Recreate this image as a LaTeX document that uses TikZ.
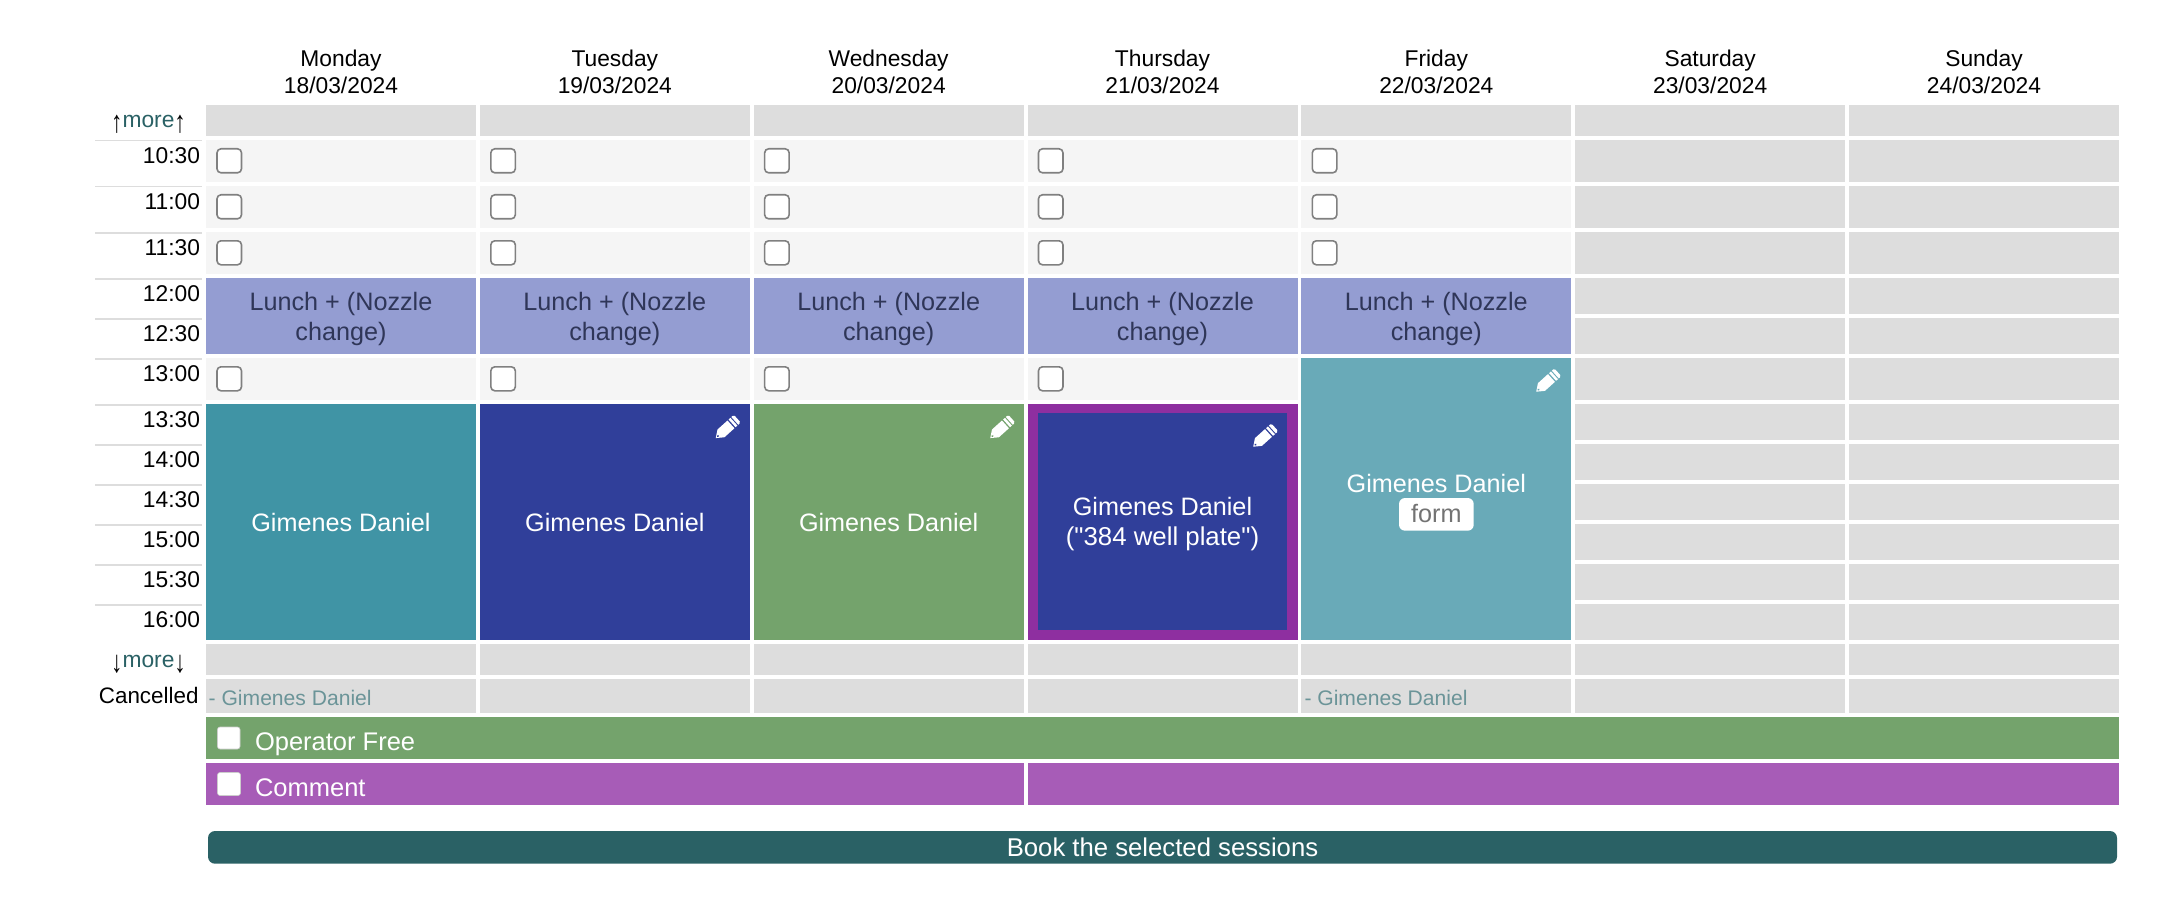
\documentclass[tikz,border=0pt]{standalone}
\usepackage{fontspec}
\setmainfont[Ligatures=TeXOff]{Liberation Sans}
\definecolor{cgray}{HTML}{DDDDDD}
\definecolor{clight}{HTML}{F5F5F5}
\definecolor{clunch}{HTML}{949DD2}
\definecolor{clunchtxt}{HTML}{2F3658}
\definecolor{cteal}{HTML}{4094A5}
\definecolor{cblue}{HTML}{303F9A}
\definecolor{cgreen}{HTML}{74A36C}
\definecolor{cpurple}{HTML}{8E2FA0}
\definecolor{cpale}{HTML}{69AAB8}
\definecolor{cbar}{HTML}{A75CB7}
\definecolor{cbtn}{HTML}{2A6165}
\definecolor{ccancel}{HTML}{6B9498}
\definecolor{cbox}{HTML}{808080}
\newcommand{\uparr}{\raisebox{-5.4pt}{\scalebox{1}[1.35]{↑}}}
\newcommand{\downarr}{\raisebox{-5.4pt}{\scalebox{1}[1.35]{↓}}}
\tikzset{
  x=1pt,y=-1pt,
  txt/.style={inner sep=0pt,outer sep=0pt,font=\fontsize{22.8}{26}\selectfont,text=black},
  big/.style={inner sep=0pt,outer sep=0pt,font=\fontsize{25.2}{30}\selectfont,text=white,anchor=base},
  barfont/.style={big,font=\fontsize{25.5}{30}\selectfont},
  lunchtxt/.style={big,text=clunchtxt},
  canceltxt/.style={inner sep=0pt,outer sep=0pt,font=\fontsize{21.1}{25}\selectfont,text=ccancel,anchor=base west},
  checkbox/.style={draw=cbox,line width=1.6pt,fill=white,rounded corners=4pt},
  barbox/.style={draw=cbox!40,line width=0.6pt,fill=white,rounded corners=2.5pt},
  rulew/.style={draw=cgray,line width=1.6pt},
  pics/pencil/.style={code={
    % origin: top right corner of a 24x24 icon box, drawn along the diagonal
    \begin{scope}[shift={(-12,12)},rotate=42]
      \fill[white] (-14.5,0) -- (-7.5,-5.2) -- (6,-5.2) -- (6,5.2) -- (-7.5,5.2) -- cycle;
      \fill[#1] (-11.5,0) circle (1.1);
      \fill[white] (7.5,-5.2) rectangle (10,5.2);
      \fill[white] (11.2,-5.2) -- (13,-5.2) -- (14.5,-3.7) -- (14.5,3.7) -- (13,5.2) -- (11.2,5.2) -- cycle;
    \end{scope}
  }},
}
\begin{document}
\begin{tikzpicture}
\useasboundingbox (0,0) rectangle (2168,920);
\fill[white] (0,0) rectangle (2168,920);
% day headers
\foreach \i/\d/\dt in {0/Monday/18,1/Tuesday/19,2/Wednesday/20,3/Thursday/21,4/Friday/22,5/Saturday/23,6/Sunday/24}{
  \pgfmathsetmacro\cx{206+\i*273.83+135}
  \node[txt,anchor=base] (day\i) at (\cx,66.4) {\d};
  \node[txt,anchor=base] (date\i) at (\cx,93.6) {\dt/03/2024};
}
% all-day rows
\foreach \i in {0,...,6}{
  \pgfmathsetmacro\xa{206+\i*273.83}
  \pgfmathsetmacro\xb{\xa+270}
  \fill[cgray] (\xa,105) rectangle (\xb,136);
  \fill[cgray] (\xa,644) rectangle (\xb,674.7);
  \fill[cgray] (\xa,679) rectangle (\xb,712.7);
}
% morning rows and 13:00
\foreach \ya/\yb in {140/181.7,186/227.7,232/274,358/400}{
  \foreach \i in {0,...,4}{
    \pgfmathsetmacro\xa{206+\i*273.83}
    \pgfmathsetmacro\xb{\xa+270}
    \fill[clight] (\xa,\ya) rectangle (\xb,\yb);
  }
  \foreach \i in {5,6}{
    \pgfmathsetmacro\xa{206+\i*273.83}
    \pgfmathsetmacro\xb{\xa+270}
    \fill[cgray] (\xa,\ya) rectangle (\xb,\yb);
  }
}
% weekend remaining rows
\foreach \ya/\yb in {278/314,318/353.7,404/440,444/480,484/520,524/560,564/600,604/640}{
  \foreach \i in {5,6}{
    \pgfmathsetmacro\xa{206+\i*273.83}
    \pgfmathsetmacro\xb{\xa+270}
    \fill[cgray] (\xa,\ya) rectangle (\xb,\yb);
  }
}
% lunch
\foreach \i in {0,...,4}{
  \pgfmathsetmacro\xa{206+\i*273.83}
  \pgfmathsetmacro\xb{\xa+270}
  \pgfmathsetmacro\cx{\xa+135}
  \fill[clunch] (\xa,278) rectangle (\xb,353.7);
  \node[lunchtxt] (luncha\i) at (\cx,310) {Lunch + (Nozzle};
  \node[lunchtxt] (lunchb\i) at (\cx,340) {change)};
}
% check boxes
\foreach \y in {148,194,240}{
  \foreach \i in {0,...,4}{
    \pgfmathsetmacro\xa{206+\i*273.83+11}
    \pgfmathsetmacro\xb{\xa+24.5}
    \pgfmathsetmacro\yb{\y+24.8}
    \draw[checkbox] (\xa,\y+0.8) rectangle (\xb,\yb);
  }
}
\foreach \i in {0,...,3}{
  \pgfmathsetmacro\xa{206+\i*273.83+11}
  \pgfmathsetmacro\xb{\xa+24.5}
  \draw[checkbox] (\xa,366.8) rectangle (\xb,390.8);
}
% booked blocks
\fill[cteal] (206,404) rectangle (476,640);
\fill[cblue] (479.83,404) rectangle (749.83,640);
\fill[cgreen] (753.66,404) rectangle (1023.66,640);
\fill[cpurple] (1027.5,404) rectangle (1297.5,640);
\fill[cblue] (1037.5,413) rectangle (1287,630);
\fill[cpale] (1301.3,358) rectangle (1571.3,640);
\node[big] (mon) at (341,531) {Gimenes Daniel};
\node[big] (tue) at (614.83,531) {Gimenes Daniel};
\node[big] (wed) at (888.66,531) {Gimenes Daniel};
\node[big] (thua) at (1162.5,515) {Gimenes Daniel};
\node[big,font=\fontsize{25.8}{30}\selectfont] (thub) at (1162.5,545) {("384 well plate")};
\node[big] (fri) at (1436.3,492) {Gimenes Daniel};
\fill[white,rounded corners=6pt] (1399,498) rectangle (1473.7,530.7);
\node[big,text=black!55] (form) at (1436.3,522.7) {form};
\pic at (738.5,416.4) {pencil=cblue};
\pic at (1013,416.4) {pencil=cgreen};
\pic at (1276,425) {pencil=cblue};
\pic at (1559,370) {pencil=cpale};
% time rules and labels
\foreach \y/\t in {140.7/10:30,186.7/11:00,232.7/11:30,278.7/12:00,318.7/12:30,358.7/13:00,404.7/13:30,444.7/14:00,484.7/14:30,524.7/15:00,564.7/15:30,604.7/16:00}{
  \draw[rulew] (95,\y) -- (201.7,\y);
  \pgfmathsetmacro\by{\y+22.5}
  \node[txt,anchor=base east] (t\t) at (200,\by) {\t};
}
% more labels
\node[txt,anchor=base] (moreup) at (148.5,127.3) {\uparr\textcolor{cbtn}{more}\uparr};
\node[txt,anchor=base] (moredown) at (148.5,667.4) {\downarr\textcolor{cbtn}{more}\downarr};
\node[txt,font=\fontsize{22.4}{26}\selectfont,anchor=base east] (canc) at (198.5,703.5) {Cancelled};
\node[canceltxt] (cancm) at (208.7,705) {- Gimenes Daniel};
\node[canceltxt] (cancf) at (1304.5,705) {- Gimenes Daniel};
% bars
\fill[cgreen] (206,717) rectangle (2119,758.7);
\fill[cbar] (206,763) rectangle (1024,804.7);
\fill[cbar] (1028,763) rectangle (2119,804.7);
\draw[barbox] (217.5,727) rectangle (240,749);
\draw[barbox] (217.5,772.5) rectangle (240.5,795.5);
\node[barfont,anchor=base west] (op) at (255,750.7) {Operator Free};
\node[barfont,anchor=base west] (com) at (255,796.7) {Comment};
% button
\fill[cbtn,rounded corners=7pt] (208,831) rectangle (2117,863.7);
\node[big,font=\fontsize{25.7}{30}\selectfont] (book) at (1162.5,856) {Book the selected sessions};
\end{tikzpicture}
\end{document}
